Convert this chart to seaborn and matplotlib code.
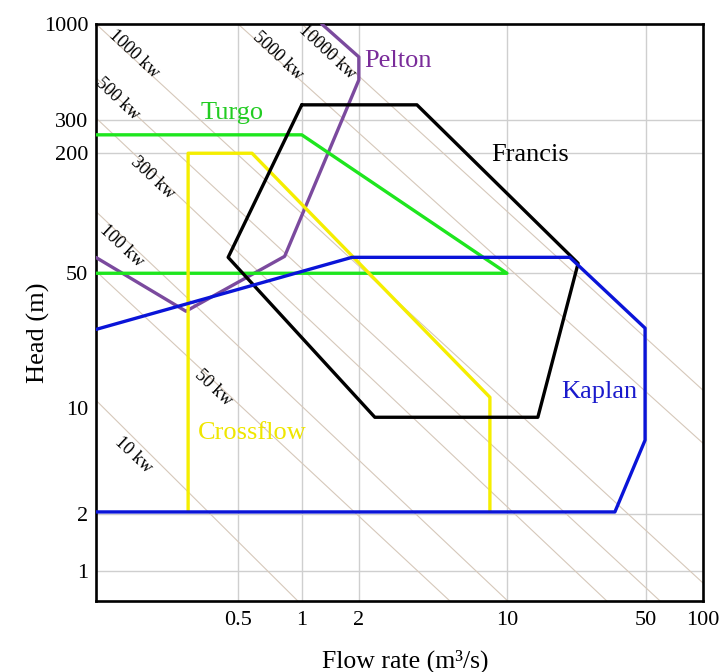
import numpy as np
import seaborn as sns
import matplotlib.pyplot as plt

# the original axes are only roughly logarithmic: tick value -> place along axis (0..1)
x_knot_vals = [0.1, 0.5, 1, 2, 10, 50, 100]
x_knot_frac = [0.0, 0.234, 0.339, 0.433, 0.677, 0.906, 1.0]
y_knot_vals = [0.7, 1, 2, 10, 50, 200, 300, 1000]
y_knot_frac = [0.0, 0.052, 0.151, 0.334, 0.568, 0.776, 0.834, 1.0]

x_ticks = [0.5, 1, 2, 10, 50, 100]
x_labels = ['0.5', '1', '2', '10', '50', '100']
y_ticks = [1, 2, 10, 50, 200, 300, 1000]
y_labels = ['1', '2', '10', '50', '200', '300', '1000']
x_grid = [0.5, 1, 2, 10, 50]
y_grid = [1, 2, 50, 200, 300]

# turbine envelopes (flow rate m3/s, head m)
pelton_q = [0.1, 0.277, 0.83, 2.0, 2.0, 1.275]
pelton_h = [60, 31.8, 60.8, 495, 661, 1000]
turgo_q = [0.1, 1.0, 10, 0.1]
turgo_h = [250, 250, 50, 50]
crossflow_q = [0.284, 0.284, 0.582, 8.31, 8.31]
crossflow_h = [2.09, 200, 200, 11.4, 2.09]
francis_q = [1.0, 3.76, 22.8, 14.3, 2.38, 0.447, 1.0]
francis_h = [362, 362, 56.1, 8.72, 8.72, 60.1, 362]
kaplan_q = [0.1, 1.84, 20.7, 49.5, 49.5, 34.9, 0.1]
kaplan_h = [25.6, 60.1, 60.1, 26, 6.15, 2.06, 2.06]

# constant power lines: label, start (q, h), end (q, h)
kw_names = ['10 kw', '50 kw', '100 kw', '300 kw', '500 kw', '1000 kw', '5000 kw', '10000 kw']
kw_q0 = [0.1, 0.1, 0.1, 0.1, 0.1, 0.1, 0.5, 1.0]
kw_h0 = [11.0, 51.2, 102, 307, 508, 1000, 1000, 1000]
kw_q1 = [0.958, 5.38, 10.1, 31.8, 59.4, 100, 100, 100]
kw_h1 = [0.7, 0.7, 0.7, 0.7, 0.7, 0.867, 5.87, 12.4]
kw_label_q = [0.152, 0.377, 0.134, 0.189, 0.127, 0.154, 0.77, 1.356]
kw_label_h = [4.9, 12.7, 68.3, 150, 390, 687, 670, 703]

turbine_names = ['Pelton', 'Turgo', 'Francis', 'Kaplan', 'Crossflow']
turbine_label_q = [3.05, 0.468, 13.0, 29.0, 0.582]
turbine_label_h = [628, 327, 195, 12.1, 6.84]


def knot_scale(vals, fracs):
    lv = np.log10(vals)

    def fwd(v):
        v = np.clip(np.asarray(v, dtype=float), 1e-9, None)
        return np.interp(np.log10(v), lv, fracs)

    def inv(u):
        return 10 ** np.interp(u, fracs, lv)
    return fwd, inv


sns.set_style('white')
plt.rcParams['font.family'] = ['Liberation Serif', 'DejaVu Serif']
plt.rcParams['text.color'] = 'black'
plt.rcParams['axes.labelcolor'] = 'black'

fig = plt.figure(figsize=(7.24, 6.72), dpi=100)
ax = fig.add_axes([96 / 724, 1 - 601 / 672, 607 / 724, 577 / 672])

line_col = '#d6c8ba'
for q0, h0, q1, h1 in zip(kw_q0, kw_h0, kw_q1, kw_h1):
    ax.plot([q0, q1], [h0, h1], color=line_col, lw=0.8, zorder=1)

turbines = [
    (pelton_q, pelton_h, '#7b4a9e'),
    (turgo_q, turgo_h, '#1ee61e'),
    (crossflow_q, crossflow_h, '#f5ee00'),
    (francis_q, francis_h, '#000000'),
    (kaplan_q, kaplan_h, '#0a14d8'),
]
for q, h, c in turbines:
    sns.lineplot(x=q, y=h, sort=False, estimator=None, color=c, lw=2.4, ax=ax, zorder=3)

ax.set_xscale('function', functions=knot_scale(x_knot_vals, x_knot_frac))
ax.set_yscale('function', functions=knot_scale(y_knot_vals, y_knot_frac))
ax.set_xlim(0.1, 100)
ax.set_ylim(0.7, 1000)
ax.set_xticks(x_ticks, x_labels)
ax.set_yticks(y_ticks, y_labels)
ax.minorticks_off()
ax.tick_params(length=0, labelsize=16, labelcolor='black')
ax.tick_params(axis='x', pad=7)
ax.tick_params(axis='y', pad=5.5)
ax.grid(False)
for g in x_grid:
    ax.axvline(g, color='#cfcfcf', lw=1.0, zorder=0.5)
for g in y_grid:
    ax.axhline(g, color='#cfcfcf', lw=1.0, zorder=0.5)
for s in ax.spines.values():
    s.set_color('black')
    s.set_linewidth(1.9)

for name, q, h in zip(kw_names, kw_label_q, kw_label_h):
    ax.text(q, h, name, fontsize=13, rotation=-43, ha='center', va='center',
            color='black', zorder=2)

label_cols = ['#7a2c9a', '#22cc22', '#000000', '#1a1acc', '#efe600']
for name, q, h, c in zip(turbine_names, turbine_label_q, turbine_label_h, label_cols):
    ax.text(q, h, name, fontsize=19, color=c, ha='center', va='center', zorder=4)

ax.set_xlabel('Flow rate (m³/s)', fontsize=18.5)
ax.xaxis.set_label_coords(0.51, -0.085)
ax.set_ylabel('Head (m)', fontsize=19)
ax.yaxis.set_label_coords(-0.075, 0.465)

fig.savefig('out.png', dpi=100)
